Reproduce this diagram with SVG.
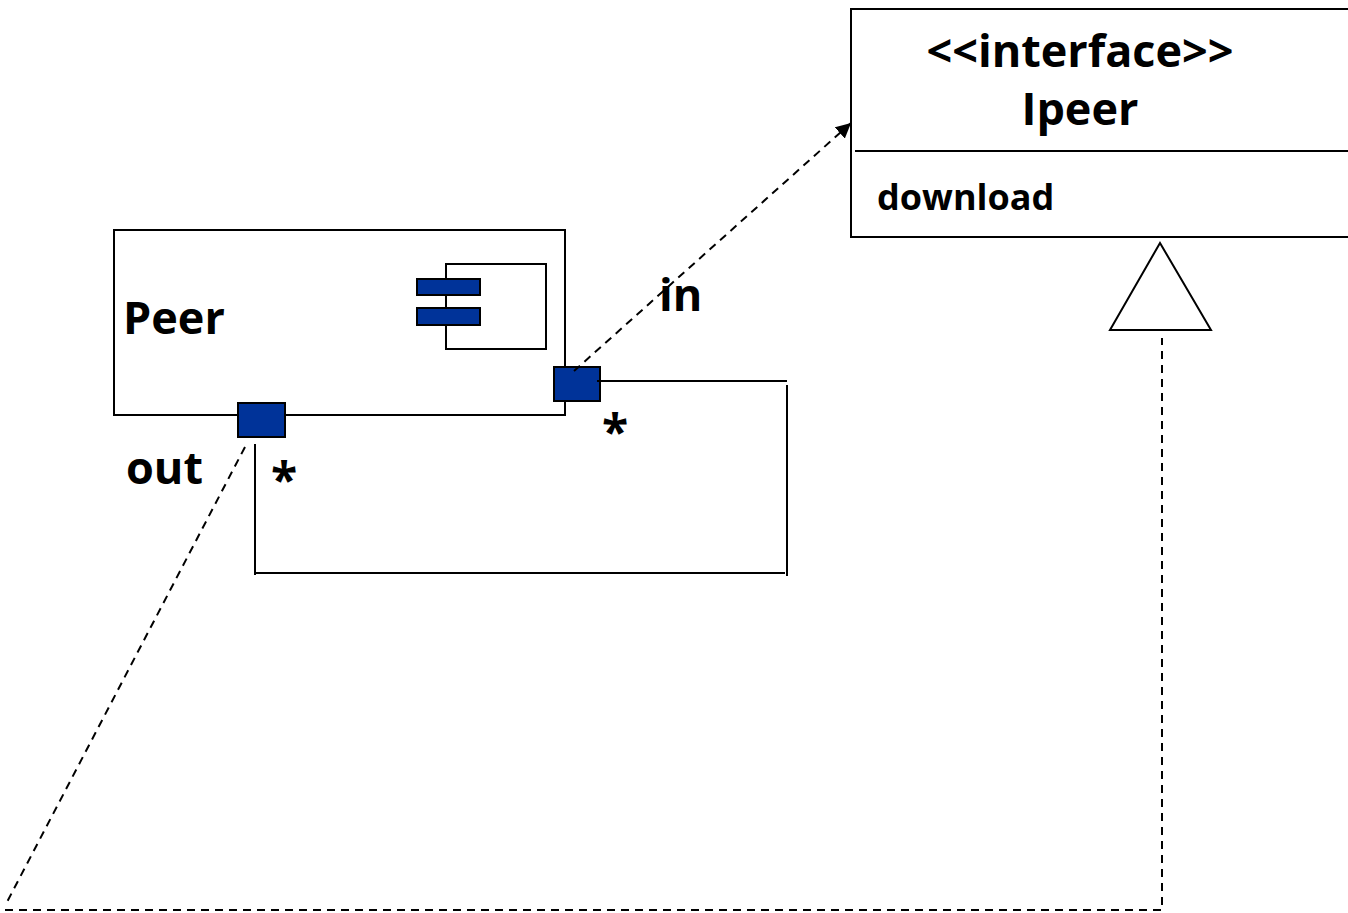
<svg xmlns="http://www.w3.org/2000/svg" width="1348" height="913" viewBox="0 0 1348 913">
<style>
.t{font-family:"Open Sans","Liberation Sans",sans-serif;font-weight:bold;fill:#000}
.ln{fill:none;stroke:#000;stroke-width:2}
.ds{fill:none;stroke:#000;stroke-width:2;stroke-dasharray:8,6}
.port{fill:#003399;stroke:#000;stroke-width:2}
</style>
<defs>
<marker id="ah" viewBox="0 0 10 10" refX="10" refY="5" markerWidth="7.5" markerHeight="7.5" orient="auto" markerUnits="strokeWidth">
<path d="M0,0 L10,5 L0,10 z" fill="#000"/>
</marker>
</defs>
<rect width="1348" height="913" fill="#fff"/>
<g id="peer">
<rect x="114" y="230" width="451" height="185" class="ln"/>
<rect x="446" y="264" width="100" height="85" class="ln"/>
<rect x="417" y="279" width="63" height="16" class="port"/>
<rect x="417" y="308" width="63" height="17" class="port"/>
<text x="123" y="334" class="t" font-size="45">Peer</text>
</g>
<g id="ipeer">
<rect x="851" y="9" width="510" height="228" class="ln"/>
<line x1="855" y1="151" x2="1348" y2="151" class="ln"/>
<text x="1080" y="67" class="t" font-size="45" text-anchor="middle">&lt;&lt;interface&gt;&gt;</text>
<text x="1080" y="125" class="t" font-size="45" text-anchor="middle">Ipeer</text>
<text x="877" y="210" class="t" font-size="36">download</text>
</g>
<g id="ports">
<rect x="238" y="403" width="47" height="34" class="port"/>
<rect x="554" y="367" width="46" height="34" class="port"/>
</g>
<g id="connectors">
<polyline points="597,381 787,381" class="ln"/>
<line x1="787" y1="385" x2="787" y2="576" class="ln"/>
<line x1="256" y1="573" x2="785" y2="573" class="ln"/>
<line x1="255" y1="444" x2="255" y2="575" class="ln"/>
<line x1="574" y1="371" x2="851" y2="123" class="ds" marker-end="url(#ah)"/>
<polyline points="245,447 7,902" class="ds"/>
<polyline points="5,910 1162,910 1162,338" class="ds"/>
<polygon points="1160,243 1110,330 1211,330" fill="#fff" stroke="#000" stroke-width="2"/>
</g>
<g id="labels">
<text x="659" y="311" class="t" font-size="45">in</text>
<text x="126" y="484" class="t" font-size="45">out</text>
<text x="602" y="449" class="t" font-size="48">*</text>
<text x="271" y="497" class="t" font-size="48">*</text>
</g>
</svg>
